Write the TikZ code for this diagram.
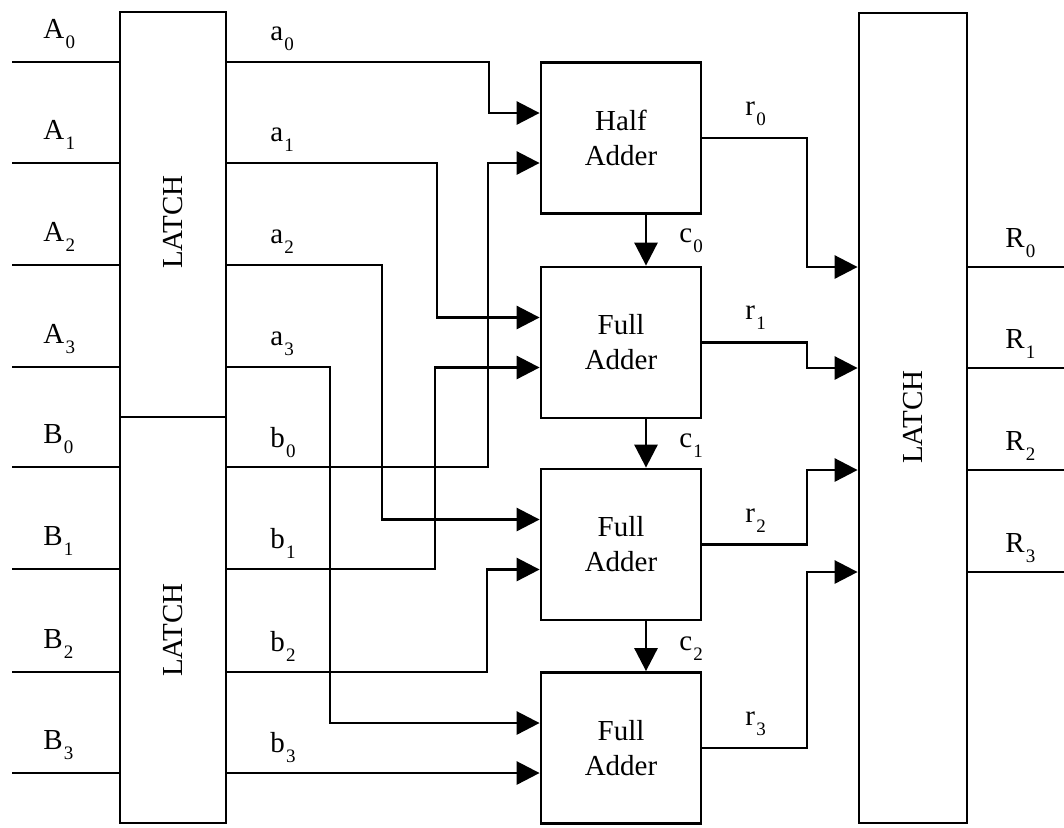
\documentclass[tikz,border=0pt]{standalone}
\usepackage{fontspec}
\setmainfont{Liberation Serif}
\usetikzlibrary{arrows.meta}
\newcommand{\lbl}[2]{#1\kern0.6pt\raisebox{-5pt}{\fontsize{9.5}{10}\selectfont #2}}
\begin{document}
\begin{tikzpicture}[x=0.5pt,y=-0.5pt,
  wire/.style={line width=1.4pt},
  arr/.style={wire,-{Triangle[length=11.5pt,width=11.5pt]}},
  box/.style={draw,line width=1.4pt,minimum width=80pt,minimum height=75.5pt,inner sep=0pt,align=center,font=\fontsize{14.5}{17.5}\selectfont},
  latch/.style={draw,line width=1.4pt,minimum width=53pt,inner sep=0pt},
  txt/.style={font=\fontsize{14.5}{17}\selectfont,inner sep=0pt},
  lab/.style={txt,anchor=base west}]
\useasboundingbox (0,0) rectangle (1064,827);

% blocks
\node[latch,minimum height=202.5pt] (LA) at (173,214.5) {};
\node[latch,minimum height=203pt] (LB) at (173,620) {};
\node[latch,minimum width=54pt,minimum height=405pt] (RL) at (913,418) {};
\node[txt,rotate=90] (LAt) at (173,222) {LATCH};
\node[txt,rotate=90] (LBt) at (173,630) {LATCH};
\node[txt,rotate=90] (RLt) at (913,417) {LATCH};
\node[box] (HA) at (621,138) {Half\\Adder};
\node[box] (FA1) at (621,342.5) {Full\\Adder};
\node[box] (FA2) at (621,544.5) {Full\\Adder};
\node[box] (FA3) at (621,748) {Full\\Adder};

% adder input points
\coordinate (HAi1) at ([yshift=12.5pt]HA.west);
\coordinate (HAi2) at ([yshift=-12.5pt]HA.west);
\coordinate (F1i1) at ([yshift=12.5pt]FA1.west);
\coordinate (F1i2) at ([yshift=-12.5pt]FA1.west);
\coordinate (F2i1) at ([yshift=12.5pt]FA2.west);
\coordinate (F2i2) at ([yshift=-12.5pt]FA2.west);
\coordinate (F3i1) at ([yshift=12.5pt]FA3.west);
\coordinate (F3i2) at ([yshift=-12.5pt]FA3.west);

% input rows
\coordinate (A0) at (12,62);
\coordinate (A1) at (12,163);
\coordinate (A2) at (12,265);
\coordinate (A3) at (12,367);
\coordinate (B0) at (12,467);
\coordinate (B1) at (12,569);
\coordinate (B2) at (12,672);
\coordinate (B3) at (12,773);

% bend columns
\coordinate (xa0) at (489,0);
\coordinate (xa1) at (437,0);
\coordinate (xa2) at (382,0);
\coordinate (xa3) at (330,0);
\coordinate (xb0) at (488,0);
\coordinate (xb1) at (435,0);
\coordinate (xb2) at (487,0);
\coordinate (xr) at (807,0);

% output rows
\coordinate (R0) at (1064,267);
\coordinate (R1) at (1064,368);
\coordinate (R2) at (1064,470);
\coordinate (R3) at (1064,572);

% inputs to latches
\foreach \n in {A0,A1,A2,A3}{\draw[wire] (\n) -- (\n -| LA.west);}
\foreach \n in {B0,B1,B2,B3}{\draw[wire] (\n) -- (\n -| LB.west);}

% latch outputs to adders
\draw[arr] (A0 -| LA.east) -| (xa0 |- HAi1) -- (HAi1);
\draw[arr] (A1 -| LA.east) -| (xa1 |- F1i1) -- (F1i1);
\draw[arr] (A2 -| LA.east) -| (xa2 |- F2i1) -- (F2i1);
\draw[arr] (A3 -| LA.east) -| (xa3 |- F3i1) -- (F3i1);
\draw[arr] (B0 -| LB.east) -| (xb0 |- HAi2) -- (HAi2);
\draw[arr] (B1 -| LB.east) -| (xb1 |- F1i2) -- (F1i2);
\draw[arr] (B2 -| LB.east) -| (xb2 |- F2i2) -- (F2i2);
\draw[arr] (B3 -| LB.east) -- (B3 -| FA3.west);

% carries
\draw[arr] ([xshift=12.5pt]HA.south) -- ([xshift=12.5pt]FA1.north);
\draw[arr] ([xshift=12.5pt]FA1.south) -- ([xshift=12.5pt]FA2.north);
\draw[arr] ([xshift=12.5pt]FA2.south) -- ([xshift=12.5pt]FA3.north);

% sums to output latch
\draw[arr] (HA.east) -| (xr |- R0) -- (R0 -| RL.west);
\draw[arr] (FA1.east) -| (xr |- R1) -- (R1 -| RL.west);
\draw[arr] (FA2.east) -| (xr |- R2) -- (R2 -| RL.west);
\draw[arr] (FA3.east) -| (xr |- R3) -- (R3 -| RL.west);

% outputs
\foreach \n in {R0,R1,R2,R3}{\draw[wire] (\n -| RL.east) -- (\n);}

% labels
\node[lab] (lA0) at (43,38) {\lbl{A}{0}};
\node[lab] (lA1) at (43,139) {\lbl{A}{1}};
\node[lab] (lA2) at (43,241) {\lbl{A}{2}};
\node[lab] (lA3) at (43,343) {\lbl{A}{3}};
\node[lab] (lB0) at (43,443) {\lbl{B}{0}};
\node[lab] (lB1) at (43,545) {\lbl{B}{1}};
\node[lab] (lB2) at (43,648) {\lbl{B}{2}};
\node[lab] (lB3) at (43,749) {\lbl{B}{3}};
\node[lab] (la0) at (270,40) {\lbl{a}{0}};
\node[lab] (la1) at (270,141) {\lbl{a}{1}};
\node[lab] (la2) at (270,243) {\lbl{a}{2}};
\node[lab] (la3) at (270,345) {\lbl{a}{3}};
\node[lab] (lb0) at (270,447) {\lbl{b}{0}};
\node[lab] (lb1) at (270,548) {\lbl{b}{1}};
\node[lab] (lb2) at (270,651) {\lbl{b}{2}};
\node[lab] (lb3) at (270,752) {\lbl{b}{3}};
\node[lab] (lr0) at (745,115) {\lbl{r}{0}};
\node[lab] (lr1) at (745,319) {\lbl{r}{1}};
\node[lab] (lr2) at (745,522) {\lbl{r}{2}};
\node[lab] (lr3) at (745,725) {\lbl{r}{3}};
\node[lab] (lc0) at (679,242) {\lbl{c}{0}};
\node[lab] (lc1) at (679,447) {\lbl{c}{1}};
\node[lab] (lc2) at (679,650) {\lbl{c}{2}};
\node[lab] (lR0) at (1005,247) {\lbl{R}{0}};
\node[lab] (lR1) at (1005,348) {\lbl{R}{1}};
\node[lab] (lR2) at (1005,450) {\lbl{R}{2}};
\node[lab] (lR3) at (1005,552) {\lbl{R}{3}};
\end{tikzpicture}
\end{document}
